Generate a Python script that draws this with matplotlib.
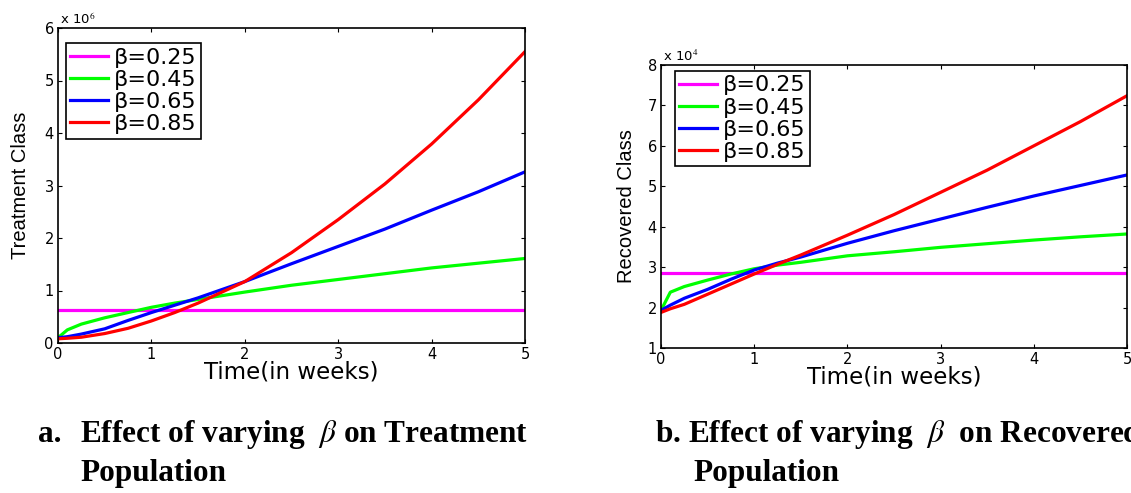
import matplotlib
matplotlib.use('Agg')
import matplotlib.pyplot as plt

plt.rcParams['font.family'] = ['DejaVu Sans']
plt.rcParams['mathtext.fontset'] = 'stix'

# time points (weeks)
t = [0, 0.1, 0.25, 0.5, 0.75, 1, 1.25, 1.5, 2, 2.5, 3, 3.5, 4, 4.5, 5]
betas = ['0.25', '0.45', '0.65', '0.85']
colors = ['#ff00ff', '#00ff00', '#0000ff', '#ff0000']

# treatment class, x 10^6
treat_025 = [0.62] * 15
treat_045 = [0.10, 0.25, 0.36, 0.48, 0.58, 0.68, 0.76, 0.83, 0.97, 1.10, 1.21, 1.32, 1.43, 1.52, 1.61]
treat_065 = [0.10, 0.12, 0.17, 0.27, 0.43, 0.58, 0.72, 0.86, 1.17, 1.51, 1.84, 2.17, 2.53, 2.88, 3.26]
treat_085 = [0.08, 0.09, 0.11, 0.18, 0.28, 0.42, 0.58, 0.76, 1.17, 1.72, 2.35, 3.03, 3.79, 4.63, 5.55]

# recovered class, x 10^4
rec_025 = [2.85] * 15
rec_045 = [1.93, 2.38, 2.52, 2.68, 2.83, 2.96, 3.05, 3.12, 3.28, 3.38, 3.49, 3.58, 3.67, 3.75, 3.82]
rec_065 = [1.93, 2.06, 2.23, 2.45, 2.70, 2.93, 3.10, 3.25, 3.59, 3.90, 4.19, 4.48, 4.76, 5.02, 5.28]
rec_085 = [1.88, 1.97, 2.08, 2.33, 2.58, 2.83, 3.07, 3.30, 3.79, 4.30, 4.85, 5.40, 6.00, 6.60, 7.24]

W, H = 1131, 493
fig = plt.figure(figsize=(W / 100, H / 100), dpi=100)

ax1 = fig.add_axes([58 / W, 1 - 343 / H, 467 / W, 315 / H])
ax2 = fig.add_axes([661 / W, 1 - 348 / H, 466 / W, 283 / H])


def style_axes(ax, series, ylim, yticks, ylabel, expo, leg_anchor):
    for y, c, b in zip(series, colors, betas):
        ax.plot(t, y, color=c, lw=2.3, label='\u03b2=' + b)
    ax.set_xlim(0, 5)
    ax.set_ylim(*ylim)
    ax.set_xticks(range(6))
    ax.set_yticks(yticks)
    ax.tick_params(direction='in', length=3, width=0.8, top=True, right=True,
                   labelsize=10.5, pad=3)
    for s in ax.spines.values():
        s.set_linewidth(1.2)
    ax.set_xlabel('Time(in weeks)', fontsize=16.5, labelpad=-1)
    ax.set_ylabel(ylabel, fontsize=14.5, family=['Liberation Sans Narrow', 'Liberation Sans'])
    ax.text(0.005, 1.004, expo, transform=ax.transAxes, fontsize=9.5,
            ha='left', va='bottom')
    leg = ax.legend(loc='upper left', bbox_to_anchor=leg_anchor, fontsize=16,
                    handlelength=1.7, handletextpad=0.25, labelspacing=0.1,
                    borderpad=0.2, borderaxespad=0, fancybox=False,
                    framealpha=1, edgecolor='black')
    leg.get_frame().set_linewidth(1.2)


style_axes(ax1, [treat_025, treat_045, treat_065, treat_085], (0, 6), range(7),
           'Treatment Class', r'x 10$^{6}$', (0.017, 0.952))
ax1.yaxis.set_label_coords(-0.06, 0.5)
style_axes(ax2, [rec_025, rec_045, rec_065, rec_085], (1, 8), range(1, 9),
           'Recovered Class', r'x 10$^{4}$', (0.030, 0.979))
ax2.yaxis.set_label_coords(-0.054, 0.5)

# captions below the panels
cap = dict(fontsize=22.5, fontweight='bold', family='Liberation Serif', va='baseline')
fig.text(38 / W, 1 - 442 / H, 'a.', **cap)
fig.text(80 / W, 1 - 442 / H, r'Effect of varying  $\beta$ on Treatment', **cap)
fig.text(80 / W, 1 - 481 / H, 'Population', **cap)
fig.text(655 / W, 1 - 442 / H, r'b. Effect of varying  $\beta$  on Recovered', **cap)
fig.text(693 / W, 1 - 481 / H, 'Population', **cap)

fig.savefig('out.png', dpi=100)
